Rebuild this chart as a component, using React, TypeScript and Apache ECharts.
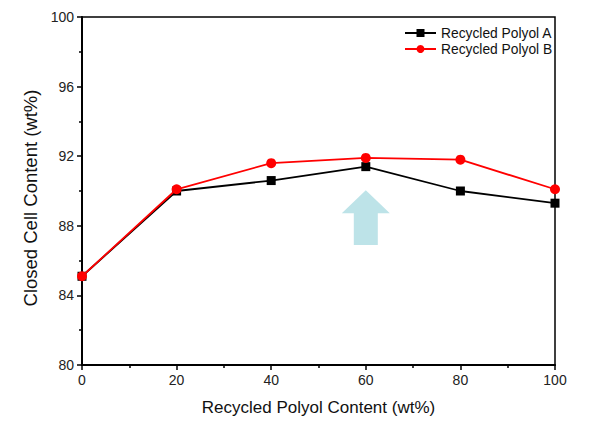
import React, { useEffect, useRef } from "react";
import * as echarts from "echarts";

const xValues = [0, 20, 40, 60, 80, 100];
const polyolA = [85.1, 90.0, 90.6, 91.4, 90.0, 89.3];
const polyolB = [85.1, 90.1, 91.6, 91.9, 91.8, 90.1];
const seriesNames = ["Recycled Polyol A", "Recycled Polyol B"];
const arrowMark = [[60, 86.9, 90.05]];

const FONT = "Liberation Sans, Arial, sans-serif";

export default function App() {
  const ref = useRef<HTMLDivElement>(null);
  useEffect(() => {
    if (!ref.current) return;
    const chart = echarts.init(ref.current, null, { renderer: "svg" });
    const axisCommon = {
      axisLine: { show: true, onZero: false, lineStyle: { color: "#000", width: 2 } },
      axisTick: { show: true, inside: false, length: 5, lineStyle: { color: "#000", width: 1.5 } },
      minorTick: { show: true, splitNumber: 2, length: 3, lineStyle: { color: "#000", width: 1.5 } },
      splitLine: { show: false },
      axisLabel: { color: "#222", fontSize: 14, fontFamily: FONT, margin: 8 },
    };
    chart.setOption({
      animation: false,
      backgroundColor: "#fff",
      textStyle: { fontFamily: FONT },
      grid: {
        left: 82,
        right: 51,
        top: 17,
        bottom: 56,
        show: true,
        borderColor: "#000",
        borderWidth: 1.5,
        backgroundColor: "transparent",
      },
      legend: {
        data: seriesNames,
        orient: "vertical",
        left: 404,
        top: 26,
        padding: 0,
        itemWidth: 31,
        itemHeight: 10,
        itemGap: 2,
        textStyle: { color: "#111", fontSize: 13.8, fontFamily: FONT },
      },
      xAxis: {
        type: "value",
        min: 0,
        max: 100,
        interval: 20,
        name: "Recycled Polyol Content (wt%)",
        nameLocation: "middle",
        nameGap: 34,
        nameTextStyle: { color: "#111", fontSize: 17, fontFamily: FONT },
        ...axisCommon,
      },
      yAxis: {
        type: "value",
        min: 80,
        max: 100,
        interval: 4,
        name: "Closed Cell Content (wt%)",
        nameLocation: "middle",
        nameGap: 40,
        nameTextStyle: { color: "#111", fontSize: 18.5, fontFamily: FONT, padding: [0, 14, 0, 0] },
        ...axisCommon,
      },
      series: [
        {
          name: seriesNames[0],
          type: "line",
          data: xValues.map((x, i) => [x, polyolA[i]]),
          symbol: "rect",
          symbolSize: 9,
          itemStyle: { color: "#000" },
          lineStyle: { color: "#000", width: 1.8 },
          z: 3,
        },
        {
          name: seriesNames[1],
          type: "line",
          data: xValues.map((x, i) => [x, polyolB[i]]),
          symbol: "circle",
          symbolSize: 10,
          itemStyle: { color: "#ff0000" },
          lineStyle: { color: "#ff0000", width: 1.8 },
          z: 4,
        },
        {
          type: "custom",
          silent: true,
          z: 1,
          encode: { x: 0, y: [1, 2] },
          data: arrowMark,
          renderItem: (params: any, api: any) => {
            const base = api.coord([api.value(0), api.value(1)]);
            const tip = api.coord([api.value(0), api.value(2)]);
            const cx = tip[0];
            const headH = 23;
            const headHalf = 24;
            const shaftHalf = 12;
            return {
              type: "polygon",
              shape: {
                points: [
                  [cx, tip[1]],
                  [cx + headHalf, tip[1] + headH],
                  [cx + shaftHalf, tip[1] + headH],
                  [cx + shaftHalf, base[1]],
                  [cx - shaftHalf, base[1]],
                  [cx - shaftHalf, tip[1] + headH],
                  [cx - headHalf, tip[1] + headH],
                ],
              },
              style: { fill: "#bde3e8" },
            };
          },
        },
      ],
    });
    return () => chart.dispose();
  }, []);
  return (
    <div
      ref={ref}
      style={{ position: "fixed", left: 0, top: 0, width: 606, height: 421, background: "#fff" }}
    />
  );
}
